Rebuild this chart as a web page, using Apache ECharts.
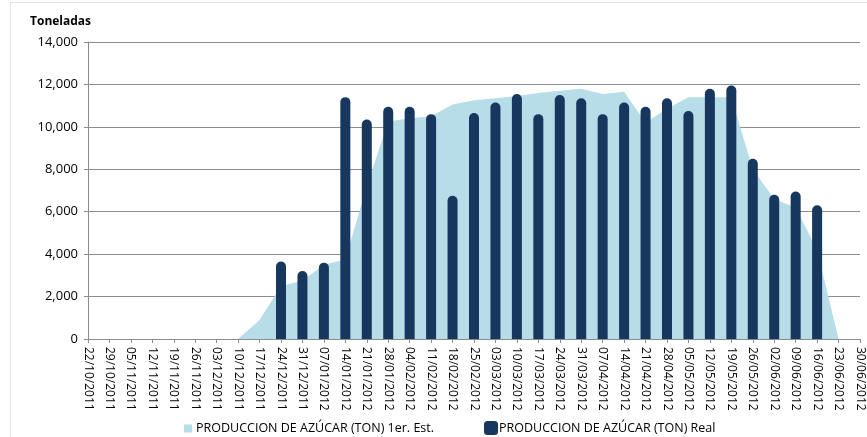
<!DOCTYPE html>
<html>
<head>
<meta charset="utf-8">
<script src="https://cdn.jsdelivr.net/npm/echarts@6/dist/echarts.min.js"></script>
<style>
    html, body { margin: 0; padding: 0; background: #fff; }
    #chart { width: 867px; height: 437px; }
</style>
</head>
<body>
<div id="chart"></div>
<script>
(() => {

    // semanas (eje X)
    var weeks = [
        '22/10/2011', '29/10/2011', '05/11/2011', '12/11/2011', '19/11/2011', '26/11/2011',
        '03/12/2011', '10/12/2011', '17/12/2011', '24/12/2011', '31/12/2011', '07/01/2012',
        '14/01/2012', '21/01/2012', '28/01/2012', '04/02/2012', '11/02/2012', '18/02/2012',
        '25/02/2012', '03/03/2012', '10/03/2012', '17/03/2012', '24/03/2012', '31/03/2012',
        '07/04/2012', '14/04/2012', '21/04/2012', '28/04/2012', '05/05/2012', '12/05/2012',
        '19/05/2012', '26/05/2012', '02/06/2012', '09/06/2012', '16/06/2012', '23/06/2012',
        '30/06/2012'
    ];

    // 1er. Est. (area)
    var estimado = [
        0, 0, 0, 0, 0, 0,
        0, 0, 900, 2500, 2750, 3500,
        3750, 7200, 10250, 10400, 10500, 11050,
        11250, 11350, 11450, 11600, 11700, 11800,
        11550, 11650, 10200, 10850, 11400, 11400,
        11400, 8000, 6600, 6200, 4200, 0,
        null
    ];

    // Real (barras)
    var real = [
        null, null, null, null, null, null,
        null, null, null, 3650, 3200, 3600,
        11400, 10350, 10950, 10950, 10600, 6750,
        10650, 11150, 11550, 10600, 11500, 11350,
        10600, 11150, 10950, 11350, 10750, 11800,
        11950, 8500, 6800, 6950, 6300, null,
        null
    ];

    var yTicks = { min: 0, max: 14000, step: 2000 };

    var font = '"Open Sans", sans-serif';
    var gridColor = '#8c8c8c';

    var option = {
        animation: false,
        textStyle: { fontFamily: font },
        graphic: [{
            type: 'rect',
            shape: { x: 10.5, y: 2.5, width: 870, height: 450 },
            style: { fill: 'none', stroke: '#e3e3e3', lineWidth: 1 },
            silent: true
        }, {
            type: 'text',
            left: 30,
            top: 16,
            style: { text: 'Toneladas', font: 'bold 12px ' + font, fill: '#000' }
        }],
        grid: {
            left: 88,
            right: 7,
            top: 42,
            bottom: 98,
            outerBoundsMode: 'none'
        },
        legend: [{
            data: [{ name: 'PRODUCCION DE AZÚCAR (TON) 1er. Est.', icon: 'rect' }],
            left: 179,
            top: 417,
            itemWidth: 8,
            itemHeight: 8,
            itemGap: 4,
            textStyle: { fontFamily: font, fontSize: 12.5, color: '#000', padding: [0, 0, 0, -1] }
        }, {
            data: [{ name: 'PRODUCCION DE AZÚCAR (TON) Real', icon: 'roundRect' }],
            left: 479,
            top: 416,
            itemWidth: 14,
            itemHeight: 14,
            itemGap: 4,
            textStyle: { fontFamily: font, fontSize: 12.5, color: '#000', padding: [0, 0, 0, -4] }
        }],
        xAxis: {
            type: 'category',
            data: weeks,
            boundaryGap: false,
            axisLine: { lineStyle: { color: gridColor } },
            axisTick: { show: true, interval: 0, length: 4, lineStyle: { color: gridColor } },
            axisLabel: {
                interval: 0,
                rotate: -90,
                margin: 8,
                fontSize: 12,
                color: '#000',
                fontFamily: font
            },
            splitLine: { show: false }
        },
        yAxis: {
            type: 'value',
            min: yTicks.min,
            max: yTicks.max,
            interval: yTicks.step,
            axisLine: { show: true, lineStyle: { color: gridColor } },
            axisTick: { show: true, length: 4, lineStyle: { color: gridColor } },
            axisLabel: {
                fontSize: 13,
                color: '#000',
                margin: 10,
                fontFamily: font,
                formatter: v => v.toLocaleString('en-US')
            },
            splitLine: { lineStyle: { color: gridColor, width: 1 } }
        },
        series: [{
            name: 'PRODUCCION DE AZÚCAR (TON) 1er. Est.',
            type: 'line',
            data: estimado,
            symbol: 'none',
            lineStyle: { width: 0 },
            itemStyle: { color: '#b7dde8' },
            areaStyle: { color: '#b7dde8', opacity: 1 },
            z: 1
        }, {
            name: 'PRODUCCION DE AZÚCAR (TON) Real',
            type: 'bar',
            data: real,
            barWidth: 10,
            itemStyle: {
                color: '#17375e',
                borderRadius: [5, 5, 0, 0]
            },
            z: 2
        }]
    };

    var myChart = echarts.init(document.getElementById('chart'));
    myChart.setOption(option);
})();
</script>
</body>
</html>
